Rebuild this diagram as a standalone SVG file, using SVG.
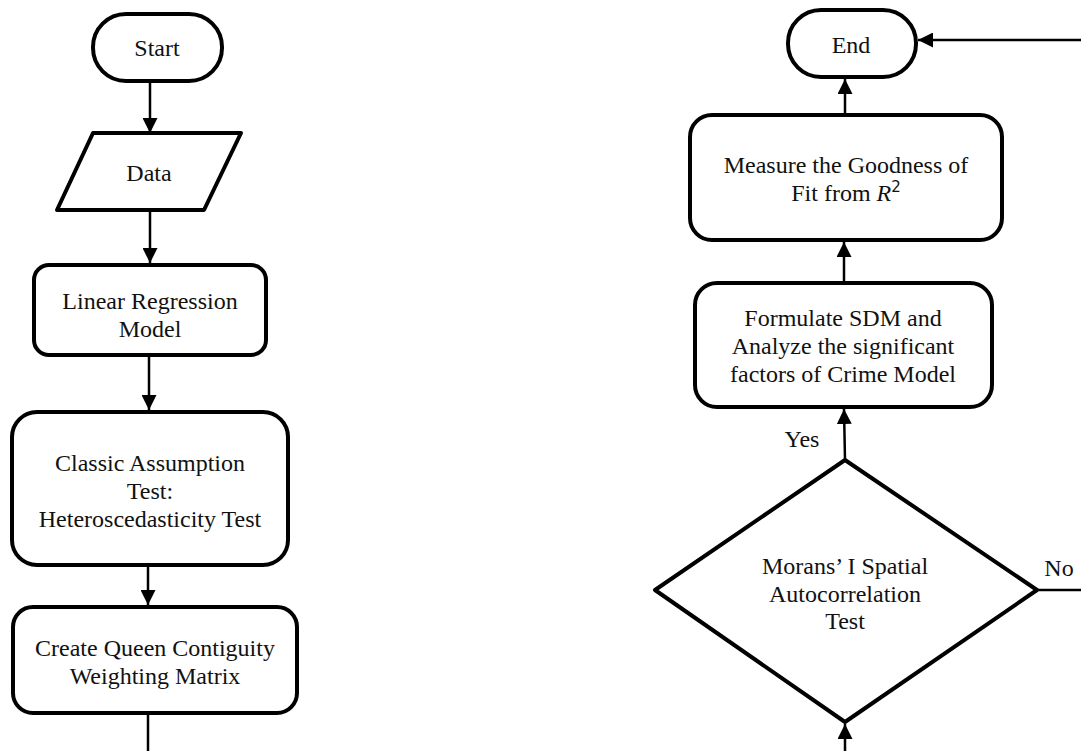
<svg xmlns="http://www.w3.org/2000/svg" width="1081" height="751" viewBox="0 0 1081 751">
<defs>
<style>
.box{fill:#fff;stroke:#000;stroke-width:4;stroke-linejoin:round}
.t{font-family:"Liberation Serif","Times New Roman",serif;font-size:24px;fill:#111;text-anchor:middle}
.ln{stroke:#000;stroke-width:2.5;fill:none}
</style>
<marker id="ah" viewBox="0 0 10 10" refX="10" refY="5" markerWidth="15" markerHeight="15" markerUnits="userSpaceOnUse" orient="auto">
<path d="M0,0 L10,5 L0,10 z" fill="#000"/>
</marker>
</defs>
<rect width="1081" height="751" fill="#fff"/>
<g id="connectors">
<line class="ln" x1="150" y1="81" x2="150" y2="133" marker-end="url(#ah)"/>
<line class="ln" x1="150" y1="210" x2="150" y2="263" marker-end="url(#ah)"/>
<line class="ln" x1="149" y1="355" x2="149" y2="410" marker-end="url(#ah)"/>
<line class="ln" x1="148" y1="565" x2="148" y2="605" marker-end="url(#ah)"/>
<line class="ln" x1="148" y1="713" x2="148" y2="751"/>
<line class="ln" x1="845" y1="751" x2="845" y2="724" marker-end="url(#ah)"/>
<line class="ln" x1="845" y1="460" x2="844" y2="409" marker-end="url(#ah)"/>
<line class="ln" x1="844" y1="283" x2="844" y2="242" marker-end="url(#ah)"/>
<line class="ln" x1="845" y1="115" x2="845" y2="79" marker-end="url(#ah)"/>
<line class="ln" x1="1037" y1="590" x2="1081" y2="590"/>
<line class="ln" x1="1081" y1="40" x2="918" y2="40" marker-end="url(#ah)"/>
<text class="t" x="802" y="447">Yes</text>
<text class="t" x="1059" y="576">No</text>
</g>
<g id="start">
<rect class="box" x="93" y="14" width="129" height="67" rx="33"/>
<text class="t" x="157" y="56">Start</text>
</g>
<g id="data">
<polygon class="box" points="93,133 241,133 204,210 57,210"/>
<text class="t" x="149" y="181">Data</text>
</g>
<g id="linear">
<rect class="box" x="34" y="265" width="232" height="90" rx="15"/>
<text class="t" x="150" y="309">Linear Regression</text>
<text class="t" x="150" y="337">Model</text>
</g>
<g id="classic">
<rect class="box" x="12" y="412" width="276" height="153" rx="25"/>
<text class="t" x="150" y="471">Classic Assumption</text>
<text class="t" x="150" y="499">Test:</text>
<text class="t" x="150" y="527">Heteroscedasticity Test</text>
</g>
<g id="queen">
<rect class="box" x="13" y="607" width="284" height="106" rx="20"/>
<text class="t" x="155" y="656">Create Queen Contiguity</text>
<text class="t" x="155" y="684">Weighting Matrix</text>
</g>
<g id="end">
<rect class="box" x="788" y="10" width="128" height="67" rx="33"/>
<text class="t" x="851" y="53">End</text>
</g>
<g id="measure">
<rect class="box" x="690" y="115" width="312" height="125" rx="22"/>
<text class="t" x="846" y="173">Measure the Goodness of</text>
<text class="t" x="846" y="201">Fit from <tspan font-style="italic">R</tspan><tspan font-family="'DejaVu Sans',sans-serif" font-size="15" dy="-9">2</tspan></text>
</g>
<g id="formulate">
<rect class="box" x="695" y="283" width="297" height="124" rx="22"/>
<text class="t" x="843" y="326">Formulate SDM and</text>
<text class="t" x="843" y="354">Analyze the significant</text>
<text class="t" x="843" y="382">factors of Crime Model</text>
</g>
<g id="moran">
<polygon class="box" points="845,460 1037,590 845,722 655,590"/>
<text class="t" x="845" y="574">Morans’ I Spatial</text>
<text class="t" x="845" y="602">Autocorrelation</text>
<text class="t" x="845" y="629">Test</text>
</g>
</svg>
